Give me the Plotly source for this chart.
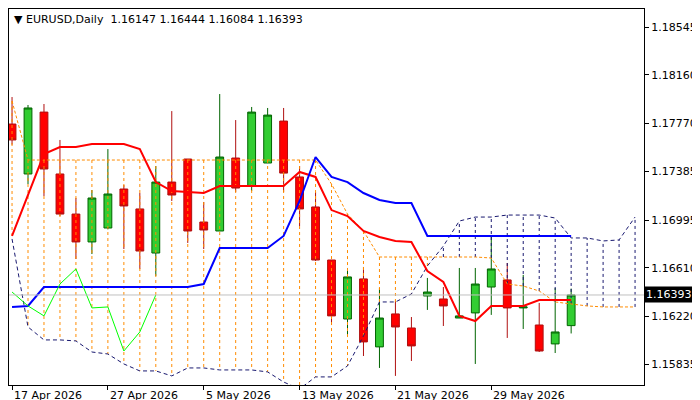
import plotly.graph_objects as go

opens = [1.17766,1.17365,1.17862,1.17365,1.17043,1.16819,1.16931,1.17244,1.17084,1.16730,
         1.17300,1.17485,1.16979,1.16907,1.17493,1.17268,1.17453,1.17790,1.17341,1.17100,
         1.16674,1.16200,1.16522,1.15976,1.16241,1.16128,1.16385,1.16361,1.16208,1.16249,
         1.16457,1.16514,1.16289,1.16152,1.16000,1.16147]
highs = [1.17983,1.17919,1.17927,1.17638,1.17172,1.17236,1.17565,1.17276,1.17212,1.17429,
         1.17870,1.17485,1.17140,1.18007,1.17798,1.17903,1.17895,1.17895,1.17429,1.17220,
         1.16674,1.16610,1.16618,1.16449,1.16345,1.16216,1.16530,1.16457,1.16610,1.16610,
         1.16875,1.16650,1.16554,1.16329,1.16449,1.16444]
lows = [1.17600,1.17284,1.17188,1.17027,1.16682,1.16722,1.16920,1.16762,1.16602,1.16546,
        1.17148,1.16811,1.16762,1.16907,1.17220,1.17228,1.17453,1.17220,1.16947,1.16666,
        1.16152,1.16064,1.15903,1.15807,1.15743,1.15863,1.16273,1.16144,1.16208,1.15839,
        1.16233,1.16048,1.16120,1.15935,1.15927,1.16084]
closes = [1.17638,1.17895,1.17405,1.17043,1.16819,1.17172,1.17204,1.17108,1.16746,1.17300,
          1.17196,1.16907,1.16915,1.17501,1.17252,1.17862,1.17838,1.17372,1.17084,1.16674,
          1.16225,1.16538,1.16016,1.16208,1.16136,1.15984,1.16417,1.16305,1.16225,1.16481,
          1.16602,1.16289,1.16297,1.15943,1.16096,1.16393]
tenkan = [1.16867,1.17188,1.17525,1.17581,1.17581,1.17605,1.17605,1.17605,1.17565,1.17300,
          1.17228,1.17220,1.17212,1.17268,1.17268,1.17268,1.17268,1.17268,1.17381,1.17341,
          1.17075,1.17027,1.16907,1.16859,1.16827,1.16819,1.16586,1.16497,1.16225,1.16184,
          1.16305,1.16305,1.16305,1.16353,1.16353,1.16353]
kijun = [1.16297,1.16305] + [1.16457]*10 + [1.16481] + [1.16770]*4 + [1.16867,1.17148,1.17501,
         1.17341,1.17300,1.17212,1.17156,1.17132,1.17132] + [1.16867]*10
span_a = [1.17951] + [1.17477]*19 + [1.17284,1.17043,1.16907] + [1.16698]*7 + [
          1.16690,1.16481,1.16465,1.16425,1.16337,1.16321,1.16305,1.16297,1.16297,1.16297]
span_b = [1.16843,1.16136,1.16032,1.16032,1.16024,1.15935,1.15919,1.15839,1.15783,1.15783,
          1.15743,1.15807,1.15807,1.15791,1.15791,1.15791,1.15775,1.15694,1.15638,1.15735,
          1.15735,1.15823,1.16064,1.16337,1.16337,1.16401,1.16626,1.16786,1.16987,1.17019,
          1.17019,1.17035,1.17035,1.17035,1.17011,1.16851,1.16851,1.16827,1.16835,1.17019]
ytick_vals = [1.18545,1.18160,1.17770,1.17385,1.16995,1.16610,1.16220,1.15835]
xtick_idx = [0,6,12,18,24,30]
xtick_text = ["17 Apr 2026","27 Apr 2026","5 May 2026","13 May 2026","21 May 2026","29 May 2026"]
chikou_shift = 26

n = len(closes)
xs = list(range(n))
fig = go.Figure()

hx_o, hy_o, hx_b, hy_b = [], [], [], []
for i, (a, b) in enumerate(zip(span_a, span_b)):
    if a >= b:
        hx_o += [i, i, None]; hy_o += [a, b, None]
    else:
        hx_b += [i, i, None]; hy_b += [a, b, None]
fig.add_trace(go.Scatter(x=hx_o, y=hy_o, mode="lines", line=dict(color="#FF8C00", width=1, dash="3px,3px"), hoverinfo="skip"))
fig.add_trace(go.Scatter(x=hx_b, y=hy_b, mode="lines", line=dict(color="#191970", width=1, dash="3px,3px"), hoverinfo="skip"))
xa = list(range(len(span_a)))
fig.add_trace(go.Scatter(x=xa, y=span_a, mode="lines", line=dict(color="#FF8C00", width=1, dash="3px,2px")))
fig.add_trace(go.Scatter(x=xa, y=span_b, mode="lines", line=dict(color="#191970", width=1, dash="4px,3px")))

fig.add_hline(y=closes[-1], line=dict(color="#C0C0C0", width=1))

fig.add_trace(go.Candlestick(x=xs, open=opens, high=highs, low=lows, close=closes,
    increasing=dict(line=dict(color="#006400", width=1), fillcolor="#32CD32"),
    decreasing=dict(line=dict(color="#B01010", width=1), fillcolor="#FF0000"),
    whiskerwidth=0))

fig.add_trace(go.Scatter(x=xs, y=tenkan, mode="lines", line=dict(color="#FF0000", width=2)))
fig.add_trace(go.Scatter(x=xs, y=kijun, mode="lines", line=dict(color="#0000FF", width=2)))
ch = closes[chikou_shift:]
fig.add_trace(go.Scatter(x=list(range(len(ch))), y=ch, mode="lines", line=dict(color="#00FF00", width=1)))

fig.add_annotation(x=1, xref="paper", y=closes[-1], yref="y", xanchor="left",
    text=f"{closes[-1]:.5f}", showarrow=False, bgcolor="#000000",
    font=dict(color="white", size=11, family="DejaVu Sans"), borderpad=1)
fig.add_annotation(x=0.005, xref="paper", y=0.995, yref="paper", xanchor="left", yanchor="top",
    text=f"▼ EURUSD,Daily  {opens[-1]:.5f} {highs[-1]:.5f} {lows[-1]:.5f} {closes[-1]:.5f}",
    showarrow=False, font=dict(color="black", size=11, family="DejaVu Sans"))
for xi, t in zip(xtick_idx, xtick_text):
    fig.add_annotation(x=xi, xref="x", y=0, yref="paper", xanchor="left", yanchor="top",
        yshift=-2, text=t, showarrow=False, font=dict(color="black", size=11, family="DejaVu Sans"))

fig.update_layout(width=700, height=400, margin=dict(l=1, r=64, t=1, b=23, autoexpand=False),
    paper_bgcolor="white", plot_bgcolor="white", showlegend=False,
    font=dict(family="DejaVu Sans", size=11, color="black"),
    xaxis=dict(range=[-0.19, 39.56], tickvals=xtick_idx, ticktext=[""]*len(xtick_idx), ticks="outside",
               ticklen=4, tickcolor="black", showgrid=False, zeroline=False, rangeslider=dict(visible=False),
               showline=True, linecolor="black", mirror=True, automargin=False),
    yaxis=dict(range=[1.15670, 1.18690], side="right", tickvals=ytick_vals,
               ticktext=[f"{v:.5f}" for v in ytick_vals], ticks="outside", ticklen=4, tickcolor="black",
               showgrid=False, zeroline=False, showline=True, linecolor="black", mirror=True, automargin=False))
fig.write_html("out.html")
